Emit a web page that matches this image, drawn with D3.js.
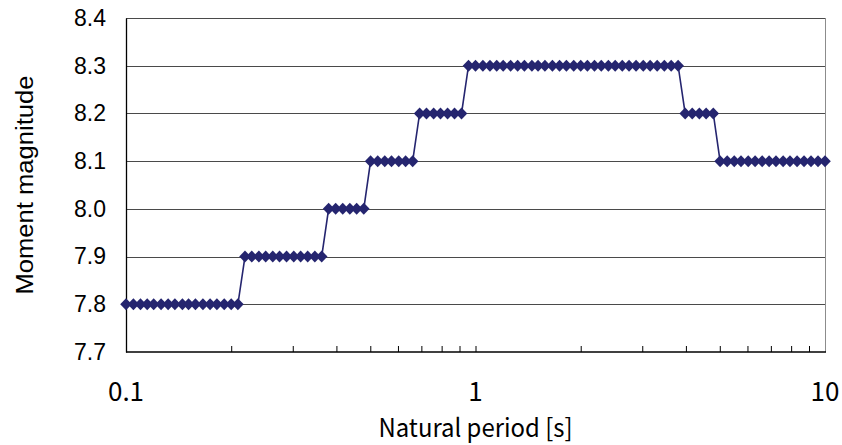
<!DOCTYPE html>
<html>
<head>
<meta charset="utf-8">
<script src="https://cdn.jsdelivr.net/npm/d3@7"></script>
<style>
  body { margin: 0; background: #fff; }
  svg { display: block; }
</style>
</head>
<body>
<svg class="chart" width="842" height="445"></svg>
<script>

// natural periods [s], 50 per decade
var periods = [
  0.100, 0.105, 0.110, 0.115, 0.120, 0.126, 0.132, 0.138, 0.145, 0.151,
  0.158, 0.166, 0.174, 0.182, 0.191, 0.200, 0.209, 0.219, 0.229, 0.240,
  0.251, 0.263, 0.275, 0.288, 0.302, 0.316, 0.331, 0.347, 0.363, 0.380,
  0.398, 0.417, 0.437, 0.457, 0.479, 0.501, 0.525, 0.550, 0.575, 0.603,
  0.631, 0.661, 0.692, 0.724, 0.759, 0.794, 0.832, 0.871, 0.912, 0.955,
  1.00, 1.05, 1.10, 1.15, 1.20, 1.26, 1.32, 1.38, 1.45, 1.51,
  1.58, 1.66, 1.74, 1.82, 1.91, 2.00, 2.09, 2.19, 2.29, 2.40,
  2.51, 2.63, 2.75, 2.88, 3.02, 3.16, 3.31, 3.47, 3.63, 3.80,
  3.98, 4.17, 4.37, 4.57, 4.79, 5.01, 5.25, 5.50, 5.75, 6.03,
  6.31, 6.61, 6.92, 7.24, 7.59, 7.94, 8.32, 8.71, 9.12, 9.55,
  10.0
];

var magnitudes = [
  7.8, 7.8, 7.8, 7.8, 7.8, 7.8, 7.8, 7.8, 7.8, 7.8,
  7.8, 7.8, 7.8, 7.8, 7.8, 7.8, 7.8, 7.9, 7.9, 7.9,
  7.9, 7.9, 7.9, 7.9, 7.9, 7.9, 7.9, 7.9, 7.9, 8.0,
  8.0, 8.0, 8.0, 8.0, 8.0, 8.1, 8.1, 8.1, 8.1, 8.1,
  8.1, 8.1, 8.2, 8.2, 8.2, 8.2, 8.2, 8.2, 8.2, 8.3,
  8.3, 8.3, 8.3, 8.3, 8.3, 8.3, 8.3, 8.3, 8.3, 8.3,
  8.3, 8.3, 8.3, 8.3, 8.3, 8.3, 8.3, 8.3, 8.3, 8.3,
  8.3, 8.3, 8.3, 8.3, 8.3, 8.3, 8.3, 8.3, 8.3, 8.3,
  8.2, 8.2, 8.2, 8.2, 8.2, 8.1, 8.1, 8.1, 8.1, 8.1,
  8.1, 8.1, 8.1, 8.1, 8.1, 8.1, 8.1, 8.1, 8.1, 8.1,
  8.1
];

var yTicks = [7.7, 7.8, 7.9, 8.0, 8.1, 8.2, 8.3, 8.4];
var xLabels = [0.1, 1, 10];
var xMinorTicks = [0.2, 0.3, 0.4, 0.5, 0.6, 0.7, 0.8, 0.9, 2, 3, 4, 5, 6, 7, 8, 9];

var margin = { top: 18, right: 17, bottom: 93, left: 126 };
var width = 842 - margin.left - margin.right;
var height = 445 - margin.top - margin.bottom;
var navy = "#25256f";

var svg = d3.select("svg.chart");
var g = svg.append("g").attr("transform", `translate(${margin.left}, ${margin.top})`);

var x = d3.scaleLog().domain([0.1, 10]).range([0, width]);
var y = d3.scaleLinear().domain([7.7, 8.4]).range([height, 0]);

// horizontal grid
g.append("g")
  .selectAll("line")
  .data(yTicks.slice(1))
  .join("line")
  .attr("x1", 0)
  .attr("x2", width)
  .attr("y1", d => Math.round(y(d)) + 0.5)
  .attr("y2", d => Math.round(y(d)) + 0.5)
  .style("stroke", "#4a4a4a")
  .style("stroke-width", 1);

// right border
g.append("line")
  .attr("x1", width + 0.5)
  .attr("x2", width + 0.5)
  .attr("y1", 0)
  .attr("y2", height)
  .style("stroke", "#8c8c8c");

// y axis
var yAxis = g.append("g")
  .call(d3.axisLeft(y).tickValues(yTicks).tickSize(0).tickPadding(20).tickFormat(d3.format(".1f")));
yAxis.select(".domain").style("stroke", "#000").style("stroke-width", 1.3);
yAxis.selectAll("text")
  .style("font-family", "'Liberation Sans', Arial, sans-serif")
  .style("font-size", "23px")
  .style("fill", "#000");

// x axis: minor ticks drawn inward
var xAxis = g.append("g")
  .attr("transform", `translate(0, ${height})`)
  .call(d3.axisTop(x).tickValues(xMinorTicks.concat([1])).tickSize(6).tickFormat(""));
xAxis.select(".domain").remove();
xAxis.selectAll(".tick line").style("stroke", "#000");
g.append("line")
  .attr("x1", 0).attr("x2", width + 1)
  .attr("y1", height).attr("y2", height)
  .style("stroke", "#000").style("stroke-width", 1.5);

g.append("g")
  .selectAll("text")
  .data(xLabels)
  .join("text")
  .attr("x", d => x(d))
  .attr("y", height + 49)
  .attr("text-anchor", "middle")
  .style("font-family", "'Noto Sans CJK JP', sans-serif")
  .style("font-size", "26px")
  .style("fill", "#000")
  .text(d => d);

// series
var line = d3.line().x((d, i) => x(periods[i])).y(d => y(d));

g.append("path")
  .datum(magnitudes)
  .attr("d", line)
  .style("fill", "none")
  .style("stroke", navy)
  .style("stroke-width", 1.6);

g.append("g")
  .selectAll("path")
  .data(magnitudes)
  .join("path")
  .attr("transform", (d, i) => `translate(${x(periods[i])}, ${y(d)})`)
  .attr("d", "M0,-6L5.8,0L0,6L-5.8,0Z")
  .style("fill", navy);

// axis titles
svg.append("text")
  .attr("x", margin.left + width / 2)
  .attr("y", 437)
  .attr("text-anchor", "middle")
  .attr("textLength", 194)
  .attr("lengthAdjust", "spacingAndGlyphs")
  .style("font-family", "'Noto Sans CJK JP', sans-serif")
  .style("font-size", "25px")
  .style("fill", "#000")
  .text("Natural period [s]");

svg.append("text")
  .attr("transform", `translate(33, ${margin.top + height / 2}) rotate(-90)`)
  .attr("text-anchor", "middle")
  .attr("textLength", 219)
  .attr("lengthAdjust", "spacingAndGlyphs")
  .style("font-family", "'Liberation Sans', Arial, sans-serif")
  .style("font-size", "23px")
  .style("fill", "#000")
  .text("Moment magnitude");

</script>
</body>
</html>
